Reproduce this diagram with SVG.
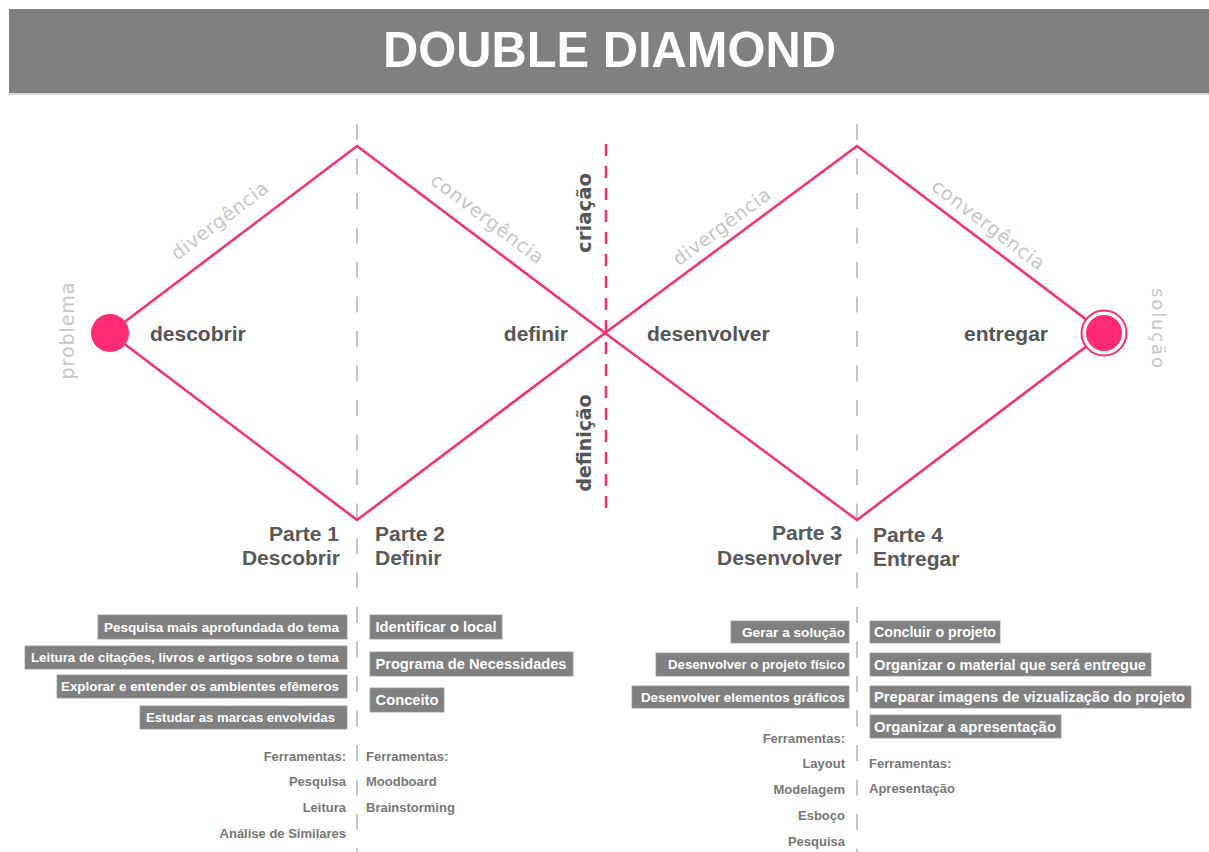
<svg xmlns="http://www.w3.org/2000/svg" width="1209" height="852" viewBox="0 0 1209 852">
  <style>
    .bar { fill: #808080; }
    .title { font-family: "Liberation Sans", Arial, sans-serif; font-weight: bold; font-size: 50px; fill: #ffffff; }
    .guide { stroke: #b3b3b3; stroke-width: 1.5; stroke-dasharray: 16 18.5; fill: none; }
    .split { stroke: #ff2a74; stroke-width: 2.5; stroke-dasharray: 12 10; fill: none; }
    .edge { stroke: #ff2a74; stroke-width: 2.5; fill: none; stroke-linejoin: miter; }
    .dot { fill: #ff2a74; }
    .ring { fill: #ffffff; stroke: #ff2a74; stroke-width: 2; }
    .soft { font-family: "DejaVu Sans", Verdana, sans-serif; font-size: 19px; fill: #c6c6c6; }
    .phase { font-family: "DejaVu Sans", Verdana, sans-serif; font-weight: bold; font-size: 19.5px; fill: #555555; }
    .stage { font-family: "Liberation Sans", Arial, sans-serif; font-weight: bold; font-size: 21px; fill: #555555; }
    .part { font-family: "Liberation Sans", Arial, sans-serif; font-weight: bold; font-size: 21px; fill: #595959; }
    .box { fill: #808080; stroke: #9a9a9a; stroke-width: 0.8; }
    .bt { font-family: "Liberation Sans", Arial, sans-serif; font-weight: bold; font-size: 13px; fill: #ffffff; }
    .bt2 { font-family: "Liberation Sans", Arial, sans-serif; font-weight: bold; font-size: 14.5px; fill: #ffffff; }
    .tool { font-family: "Liberation Sans", Arial, sans-serif; font-weight: bold; font-size: 13px; fill: #777777; }
    .end { text-anchor: end; }
  </style>

  <!-- header band -->
  <g id="header">
    <rect class="bar" x="9" y="9" width="1200" height="84"/>
    <rect x="9" y="93" width="1200" height="2" fill="#dcdcdc"/>
    <text class="title" x="383" y="67" textLength="453" lengthAdjust="spacingAndGlyphs">DOUBLE DIAMOND</text>
  </g>

  <!-- vertical guides -->
  <g id="guides">
    <line class="guide" x1="357" y1="124" x2="357" y2="852"/>
    <line class="guide" x1="857" y1="124" x2="857" y2="852"/>
    <line class="split" x1="606" y1="144" x2="606" y2="518"/>
  </g>

  <!-- diamond outlines -->
  <g id="connectors">
    <polyline class="edge" points="110,333 357,146 605,333 857,146 1104,333"/>
    <polyline class="edge" points="110,333 357,520 605,333 857,520 1104,333"/>
  </g>

  <!-- start and end points -->
  <g id="node-problema">
    <circle class="dot" cx="110" cy="333" r="19"/>
    <text class="soft" transform="translate(73.5,331) rotate(-90)" text-anchor="middle" textLength="97" lengthAdjust="spacing">problema</text>
  </g>
  <g id="node-solucao">
    <circle class="ring" cx="1104" cy="333" r="22.5"/>
    <circle class="dot" cx="1104" cy="333" r="18"/>
    <text class="soft" style="font-size:18px" transform="translate(1151.5,328) rotate(90)" text-anchor="middle" textLength="80" lengthAdjust="spacing">solução</text>
  </g>

  <!-- edge labels -->
  <g id="edge-labels">
    <text class="soft" transform="translate(220,221) rotate(-37.1)" y="6" text-anchor="middle" textLength="116" lengthAdjust="spacing">divergência</text>
    <text class="soft" transform="translate(487,219) rotate(37.1)" y="6" text-anchor="middle" textLength="136" lengthAdjust="spacing">convergência</text>
    <text class="soft" transform="translate(722,227) rotate(-36.6)" y="6" text-anchor="middle" textLength="116" lengthAdjust="spacing">divergência</text>
    <text class="soft" transform="translate(988,225) rotate(37.1)" y="6" text-anchor="middle" textLength="136" lengthAdjust="spacing">convergência</text>
  </g>

  <!-- phase labels along the split -->
  <g id="phases">
    <text class="phase" transform="translate(590.5,213) rotate(-90)" text-anchor="middle" textLength="80" lengthAdjust="spacingAndGlyphs">criação</text>
    <text class="phase" transform="translate(590.5,443) rotate(-90)" text-anchor="middle" textLength="97" lengthAdjust="spacingAndGlyphs">definição</text>
  </g>

  <!-- stage names inside the diamonds -->
  <g id="stages">
    <text class="stage" x="150" y="341">descobrir</text>
    <text class="stage end" x="568" y="341">definir</text>
    <text class="stage" x="647" y="341">desenvolver</text>
    <text class="stage end" x="1048" y="341">entregar</text>
  </g>

  <!-- Parte 1 -->
  <g id="parte-1">
    <text class="part end" x="339" y="541">Parte 1</text>
    <text class="part end" x="340" y="565">Descobrir</text>
    <rect class="box" x="98" y="615" width="249" height="24"/>
    <text class="bt" x="104" y="632" textLength="235" lengthAdjust="spacingAndGlyphs">Pesquisa mais aprofundada do tema</text>
    <rect class="box" x="25" y="646" width="322" height="23"/>
    <text class="bt" x="31" y="662" textLength="308" lengthAdjust="spacingAndGlyphs">Leitura de citações, livros e artigos sobre o tema</text>
    <rect class="box" x="57" y="675" width="290" height="23"/>
    <text class="bt" x="61" y="691" textLength="278" lengthAdjust="spacingAndGlyphs">Explorar e entender os ambientes efêmeros</text>
    <rect class="box" x="140" y="706" width="207" height="23"/>
    <text class="bt" x="146" y="722" textLength="189" lengthAdjust="spacingAndGlyphs">Estudar as marcas envolvidas</text>
    <text class="tool end" x="346" y="761">Ferramentas:</text>
    <text class="tool end" x="346" y="786">Pesquisa</text>
    <text class="tool end" x="346" y="812">Leitura</text>
    <text class="tool end" x="346" y="838">Análise de Similares</text>
  </g>

  <!-- Parte 2 -->
  <g id="parte-2">
    <text class="part" x="375" y="541">Parte 2</text>
    <text class="part" x="375" y="565">Definir</text>
    <rect class="box" x="370" y="615" width="132" height="24"/>
    <text class="bt2" x="375.5" y="632" textLength="121" lengthAdjust="spacingAndGlyphs">Identificar o local</text>
    <rect class="box" x="370" y="652" width="203" height="24"/>
    <text class="bt2" x="375.5" y="669" textLength="191" lengthAdjust="spacingAndGlyphs">Programa de Necessidades</text>
    <rect class="box" x="370" y="688" width="74" height="24"/>
    <text class="bt2" x="375.5" y="705" textLength="63" lengthAdjust="spacingAndGlyphs">Conceito</text>
    <text class="tool" x="366" y="761">Ferramentas:</text>
    <text class="tool" x="366" y="786">Moodboard</text>
    <text class="tool" x="366" y="812">Brainstorming</text>
  </g>

  <!-- Parte 3 -->
  <g id="parte-3">
    <text class="part end" x="842" y="540">Parte 3</text>
    <text class="part end" x="842" y="565">Desenvolver</text>
    <rect class="box" x="731" y="621" width="118" height="22"/>
    <text class="bt" x="742" y="636.5" textLength="103" lengthAdjust="spacingAndGlyphs">Gerar a solução</text>
    <rect class="box" x="656" y="653" width="193" height="23"/>
    <text class="bt" x="668" y="669" textLength="177" lengthAdjust="spacingAndGlyphs">Desenvolver o projeto físico</text>
    <rect class="box" x="632" y="686" width="217" height="22"/>
    <text class="bt" x="641" y="701.5" textLength="204" lengthAdjust="spacingAndGlyphs">Desenvolver elementos gráficos</text>
    <text class="tool end" x="845" y="743">Ferramentas:</text>
    <text class="tool end" x="845" y="768">Layout</text>
    <text class="tool end" x="845" y="794">Modelagem</text>
    <text class="tool end" x="845" y="820">Esboço</text>
    <text class="tool end" x="845" y="846">Pesquisa</text>
  </g>

  <!-- Parte 4 -->
  <g id="parte-4">
    <text class="part" x="873" y="542">Parte 4</text>
    <text class="part" x="873" y="566">Entregar</text>
    <rect class="box" x="870" y="621" width="130" height="22"/>
    <text class="bt2" x="874" y="637" textLength="122" lengthAdjust="spacingAndGlyphs">Concluir o projeto</text>
    <rect class="box" x="870" y="653" width="281" height="23"/>
    <text class="bt2" x="874" y="669.5" textLength="272" lengthAdjust="spacingAndGlyphs">Organizar o material que será entregue</text>
    <rect class="box" x="870" y="686" width="321" height="22"/>
    <text class="bt2" x="874" y="702" textLength="311" lengthAdjust="spacingAndGlyphs">Preparar imagens de vizualização do projeto</text>
    <rect class="box" x="870" y="715" width="191" height="23"/>
    <text class="bt2" x="874" y="731.5" textLength="182" lengthAdjust="spacingAndGlyphs">Organizar a apresentação</text>
    <text class="tool" x="869" y="768">Ferramentas:</text>
    <text class="tool" x="869" y="793">Apresentação</text>
  </g>
</svg>
